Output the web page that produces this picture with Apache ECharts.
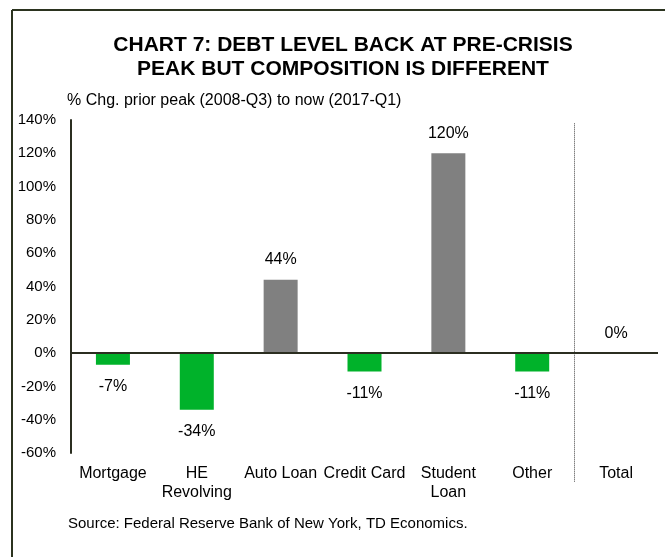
<!DOCTYPE html>
<html>
<head>
<meta charset="utf-8">
<script src="https://cdn.jsdelivr.net/npm/echarts@6/dist/echarts.min.js"></script>
<style>
html,body{margin:0;padding:0;background:#fff;}
#chart{width:665px;height:557px;}
</style>
</head>
<body>
<div id="chart"></div>
<script>
const categories = ['Mortgage', 'HE\nRevolving', 'Auto Loan', 'Credit Card', 'Student\nLoan', 'Other', 'Total'];
const values = [-7, -34, 44, -11, 120, -11, 0];
const yTicks = [-60, -40, -20, 0, 20, 40, 60, 80, 100, 120, 140];

const GREEN = '#00b22a';
const GREY = '#808080';
const FONT = '"Liberation Sans", Arial, sans-serif';

const chart = echarts.init(document.getElementById('chart'));

const barData = values.map(v => ({
  value: v,
  itemStyle: { color: v > 0 ? GREY : GREEN },
  label: { position: v < 0 ? 'bottom' : 'top', distance: v < 0 ? 14 : 12 }
}));

const option = {
  animation: false,
  backgroundColor: '#fff',
  textStyle: { fontFamily: FONT },
  grid: { left: 71, right: 7, top: 120, bottom: 104, containLabel: false },
  xAxis: {
    type: 'category',
    data: categories,
    axisLine: { show: false },
    axisTick: { show: false },
    axisLabel: { color: '#000', fontSize: 16, fontFamily: FONT, margin: 11, lineHeight: 19, interval: 0 },
    splitLine: { show: false }
  },
  yAxis: {
    type: 'value',
    min: yTicks[0],
    max: yTicks[yTicks.length - 1],
    interval: 20,
    axisLine: { show: true, lineStyle: { color: '#2b2e20', width: 2 } },
    axisTick: { show: false },
    splitLine: { show: false },
    axisLabel: { color: '#000', fontSize: 15, fontFamily: FONT, margin: 15, formatter: v => v + '%' }
  },
  series: [{
    type: 'bar',
    data: barData,
    barWidth: 34,
    label: {
      show: true,
      color: '#000',
      fontSize: 16,
      fontFamily: FONT,
      formatter: p => p.value + '%'
    },
    markLine: {
      silent: true,
      symbol: 'none',
      label: { show: false },
      lineStyle: { color: '#2b2e20', width: 2, type: 'solid' },
      data: [{ yAxis: 0 }]
    }
  }],
  graphic: [
    { type: 'line', shape: { x1: 12, y1: 10, x2: 665, y2: 10 }, style: { stroke: '#2b331f', lineWidth: 2 } },
    { type: 'line', shape: { x1: 12, y1: 10, x2: 12, y2: 557 }, style: { stroke: '#2b331f', lineWidth: 2 } },
    { type: 'text', x: 343, y: 33, style: { text: 'CHART 7: DEBT LEVEL BACK AT PRE-CRISIS\nPEAK BUT COMPOSITION IS DIFFERENT', font: 'bold 21px ' + FONT, fill: '#000', textAlign: 'center', lineHeight: 24 } },
    { type: 'text', left: 67, top: 93, style: { text: '% Chg. prior peak (2008-Q3) to now (2017-Q1)', font: '16px ' + FONT, fill: '#000' } },
    { type: 'text', left: 68, top: 516, style: { text: 'Source: Federal Reserve Bank of New York, TD Economics.', font: '15px ' + FONT, fill: '#000' } }
  ]
};
chart.setOption(option);

// dotted divider between "Other" and "Total", placed via the category scale
const xOther = chart.convertToPixel({ xAxisIndex: 0 }, 5);
const xTotal = chart.convertToPixel({ xAxisIndex: 0 }, 6);
const xDiv = Math.round((xOther + xTotal) / 2) + 0.5;
const yTop = chart.convertToPixel({ yAxisIndex: 0 }, 138);
chart.setOption({
  graphic: option.graphic.concat([
    { type: 'line', shape: { x1: xDiv, y1: yTop, x2: xDiv, y2: 482 }, style: { stroke: '#444', lineWidth: 1, lineDash: [1, 1] } }
  ])
});
</script>
</body>
</html>
